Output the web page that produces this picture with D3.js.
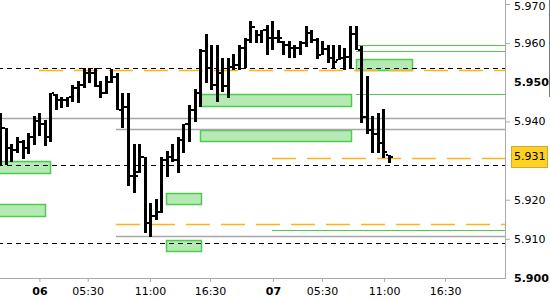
<!DOCTYPE html>
<html><head><meta charset="utf-8">
<script src="https://cdn.jsdelivr.net/npm/d3@7"></script>
<style>body{margin:0;background:#fff}svg{display:block}</style>
</head><body>
<svg id="c" width="550" height="300"></svg>
<script>
// ---- data ----
const highs  = [5.9422,5.9383,5.9342,5.9360,5.9353,5.9370,5.9414,5.9422,5.9404,5.9473,5.9470,5.9462,5.9462,5.9493,5.9503,5.9537,5.9537,5.9537,5.9503,5.9516,5.9534,5.9524,5.9473,5.9473,5.9342,5.9342,5.9309,5.9192,5.9202,5.9309,5.9324,5.9342,5.9360,5.9393,5.9442,5.9483,5.9585,5.9623,5.9595,5.9595,5.9562,5.9562,5.9572,5.9595,5.9613,5.9657,5.9634,5.9634,5.9646,5.9657,5.9634,5.9606,5.9606,5.9595,5.9606,5.9644,5.9634,5.9613,5.9606,5.9595,5.9595,5.9595,5.9588,5.9644,5.9644,5.9593,5.9516,5.9414,5.9422,5.9432,5.9315];
const lows   = [5.9289,5.9289,5.9296,5.9319,5.9304,5.9317,5.9340,5.9363,5.9337,5.9347,5.9429,5.9434,5.9437,5.9450,5.9447,5.9485,5.9498,5.9488,5.9460,5.9470,5.9498,5.9429,5.9383,5.9235,5.9217,5.9268,5.9115,5.9105,5.9148,5.9166,5.9258,5.9296,5.9268,5.9319,5.9347,5.9399,5.9437,5.9498,5.9480,5.9450,5.9475,5.9460,5.9531,5.9531,5.9537,5.9600,5.9600,5.9600,5.9570,5.9583,5.9600,5.9570,5.9562,5.9562,5.9570,5.9590,5.9600,5.9560,5.9570,5.9549,5.9534,5.9557,5.9531,5.9537,5.9583,5.9396,5.9368,5.9319,5.9319,5.9307,5.9294];
const opens  = [5.9410,5.9383,5.9332,5.9327,5.9347,5.9332,5.9360,5.9401,5.9393,5.9360,5.9468,5.9455,5.9455,5.9462,5.9485,5.9493,5.9524,5.9524,5.9491,5.9473,5.9501,5.9514,5.9429,5.9437,5.9261,5.9270,5.9309,5.9141,5.9158,5.9169,5.9301,5.9309,5.9301,5.9353,5.9393,5.9429,5.9473,5.9580,5.9537,5.9493,5.9524,5.9491,5.9539,5.9544,5.9588,5.9608,5.9641,5.9621,5.9634,5.9613,5.9613,5.9604,5.9595,5.9588,5.9588,5.9600,5.9626,5.9608,5.9570,5.9584,5.9562,5.9558,5.9562,5.9565,5.9623,5.9583,5.9411,5.9378,5.9368,5.9345,5.9314];
const closes = [5.9383,5.9332,5.9327,5.9347,5.9332,5.9360,5.9401,5.9393,5.9360,5.9473,5.9455,5.9455,5.9462,5.9485,5.9493,5.9524,5.9524,5.9491,5.9473,5.9501,5.9514,5.9429,5.9437,5.9261,5.9261,5.9309,5.9141,5.9158,5.9169,5.9301,5.9309,5.9301,5.9353,5.9393,5.9429,5.9473,5.9580,5.9537,5.9493,5.9524,5.9491,5.9539,5.9544,5.9588,5.9608,5.9641,5.9621,5.9634,5.9613,5.9613,5.9613,5.9595,5.9588,5.9588,5.9600,5.9626,5.9608,5.9570,5.9584,5.9562,5.9552,5.9562,5.9565,5.9623,5.9583,5.9411,5.9378,5.9368,5.9345,5.9322,5.9310];

const xTickPos    = [7.05, 15.75, 26.97, 37.78, 49.14, 57.96, 69.14, 80.13];
const xTickLabels = ["06","05:30","11:00","16:30","07","05:30","11:00","16:30"];
const xTickMajor  = [true,false,false,false,true,false,false,false];

const yTicks      = [5.97, 5.96, 5.95, 5.94, 5.92, 5.91, 5.90];
const yTickMajor  = [false,false,true,false,false,false,true];
const lastPrice   = 5.931;

const blackLevels  = [5.9537, 5.9289, 5.9089];
const blackStarts  = [-2, -2, -2];
const grayLevels   = [5.9409, 5.9381, 5.9107];
const grayStarts   = [-2, 20.85, 20.85];
const orangeLevels = [5.9531, 5.9138, 5.9307];
const orangeStarts = [6.97, 20.85, 48.95];
const greenLevels  = [5.9595, 5.9580, 5.9470, 5.9123];
const greenStarts  = [64.09, 64.09, 64.09, 48.95];

const zoneStart = [-2, -2, 29.86, 29.86, 35.98, 35.98, 64.09];
const zoneEnd   = [8.95, 8.05, 36.1, 36.1, 63.1, 63.1, 74.1];
const zoneTop   = [5.9299, 5.9189, 5.9217, 5.9097, 5.9470, 5.9378, 5.9560];
const zoneBot   = [5.9268, 5.9158, 5.9189, 5.9069, 5.9439, 5.9350, 5.9531];

// ---- layout ----
const W = 505, H = 278;
const svg = d3.select("#c");
const x = d3.scaleLinear().domain([0, 91]).range([0.3, 505.35]);
const y = d3.scaleLinear().domain([5.90, 5.97]).range([278, 4]);
const FONT = "'DejaVu Sans', Verdana, sans-serif";

svg.append("defs").append("clipPath").attr("id","pc")
  .append("rect").attr("x",0).attr("y",0).attr("width",W).attr("height",H);
const plot = svg.append("g").attr("clip-path","url(#pc)");

// zones
plot.append("g").selectAll("rect").data(zoneStart).join("rect")
  .attr("x",(d,i)=>Math.round(x(d))+0.5)
  .attr("y",(d,i)=>Math.round(y(zoneTop[i]))+0.5)
  .attr("width",(d,i)=>Math.round(x(zoneEnd[i]))-Math.round(x(d)))
  .attr("height",(d,i)=>Math.round(y(zoneBot[i]))-Math.round(y(zoneTop[i])))
  .attr("fill","#b5eab5").attr("stroke","#4ccb4c").attr("stroke-width",1.5);

function levels(vals, starts, color, dash, width){
  plot.append("g").selectAll("line").data(vals).join("line")
    .attr("x1",(d,i)=>Math.round(x(starts[i]))).attr("x2",W)
    .attr("y1",d=>Math.round(y(d))+0.5).attr("y2",d=>Math.round(y(d))+0.5)
    .attr("stroke",color).attr("stroke-width",width)
    .attr("stroke-dasharray",dash);
}
levels(grayLevels, grayStarts, "#a8a8a8", null, 1.5);
levels(greenLevels, greenStarts, "#4ccb4c", null, 1.2);
levels(orangeLevels, orangeStarts, "#ffb31a", "24,11", 1.3);
levels(blackLevels, blackStarts, "#000", "5,4", 1.2);

// OHLC bars
const bars = plot.append("g").attr("fill","#000");
const idx = d3.range(highs.length);
bars.selectAll("rect.b").data(idx).join("rect").attr("class","b")
  .attr("x",i=>Math.round(x(i))-1).attr("width",3)
  .attr("y",i=>Math.round(y(highs[i])))
  .attr("height",i=>Math.max(2,Math.round(y(lows[i]))-Math.round(y(highs[i]))));
bars.selectAll("rect.c").data(idx).join("rect").attr("class","c")
  .attr("x",i=>Math.round(x(i))+2).attr("width",2)
  .attr("y",i=>Math.round(y(closes[i]))-1).attr("height",2);
bars.selectAll("rect.o").data(idx).join("rect").attr("class","o")
  .attr("x",i=>Math.round(x(i))-3).attr("width",2)
  .attr("y",i=>Math.round(y(opens[i]))-1).attr("height",2);

// border
svg.append("line").attr("x1",W+0.5).attr("x2",W+0.5).attr("y1",0).attr("y2",H+1)
  .attr("stroke","#aaa").attr("stroke-width",1);
svg.append("line").attr("x1",0).attr("x2",W+1).attr("y1",H+0.5).attr("y2",H+0.5)
  .attr("stroke","#aaa").attr("stroke-width",1);
svg.append("line").attr("x1",549.5).attr("x2",549.5).attr("y1",0).attr("y2",97)
  .attr("stroke","#777").attr("stroke-width",1);

// y axis
const ya = svg.append("g").attr("transform",`translate(${W},0)`)
  .call(d3.axisRight(y).tickValues(yTicks).tickFormat(d3.format(".3f")).tickSize(5).tickPadding(4));
ya.select(".domain").remove();
ya.selectAll(".tick line").attr("stroke","#aaa")
  .attr("opacity",(d,i)=>yTickMajor[i]?0:1);
ya.selectAll(".tick text").attr("fill","#000")
  .style("font-family",FONT).style("font-size","11px")
  .style("font-weight",(d,i)=>yTickMajor[i]?"bold":"normal");
ya.selectAll(".tick").filter(d=>d===5.97).select("text").attr("dy","0.5em");

// last price box
const lp = svg.append("g");
lp.append("rect").attr("x",511.5).attr("y",Math.round(y(lastPrice))-10.5)
  .attr("width",36).attr("height",21).attr("fill","#ffd21f").attr("stroke","#c9a84a");
lp.append("text").attr("x",514).attr("y",y(lastPrice)).attr("dy","0.32em")
  .attr("fill","#000").style("font-family",FONT).style("font-size","11px")
  .text(d3.format(".3f")(lastPrice));

// x axis
const xa = svg.append("g").attr("transform",`translate(0,${H})`)
  .call(d3.axisBottom(x).tickValues(xTickPos).tickFormat((d,i)=>xTickLabels[i]).tickSize(4).tickPadding(5));
xa.select(".domain").remove();
xa.selectAll(".tick line").attr("stroke","#aaa");
xa.selectAll(".tick text").attr("fill","#000")
  .style("font-family",FONT).style("font-size","11px")
  .style("font-weight",(d,i)=>xTickMajor[i]?"bold":"normal");
</script>
</body></html>
